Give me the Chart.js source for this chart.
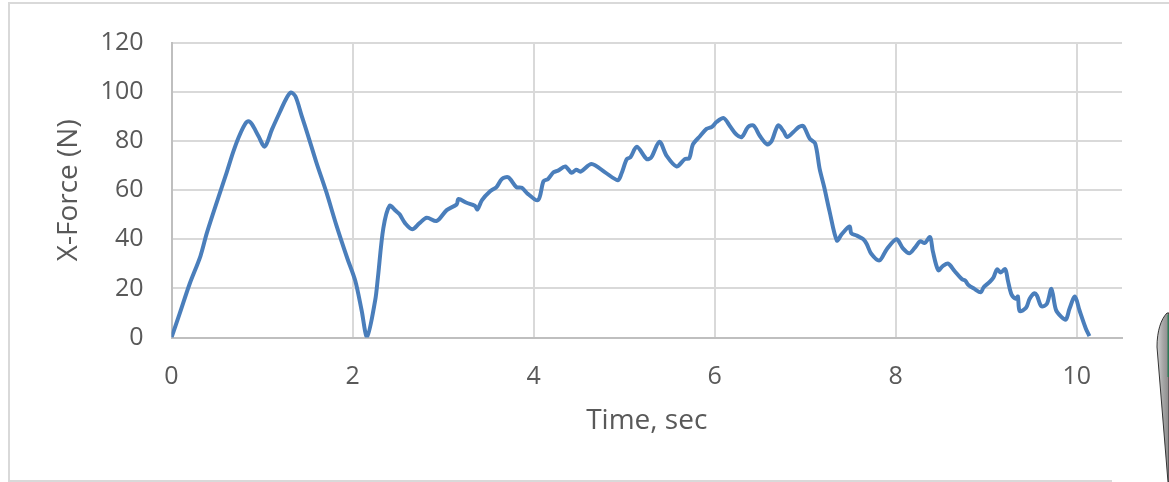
<!DOCTYPE html>
<html>
<head>
<meta charset="utf-8">
<script src="https://cdn.jsdelivr.net/npm/chart.js@4.4.1/dist/chart.umd.min.js"></script>
<style>
  html, body { margin: 0; padding: 0; background: #fff; }
  body { width: 1169px; height: 482px; position: relative; overflow: hidden; }
  #chart { position: absolute; left: 0; top: 0; }
  .frame { position: absolute; background: #d9d9d9; }
  #knob { position: absolute; left: 1150px; top: 305px; }
</style>
</head>
<body>
<div class="frame" style="left:8px; top:2px; width:1161px; height:2px;"></div>
<div class="frame" style="left:8px; top:2px; width:2px; height:479px;"></div>
<div class="frame" style="left:8px; top:480px; width:1104px; height:2px;"></div>
<svg id="knob" width="19" height="177" viewBox="0 0 19 177">
  <defs>
    <linearGradient id="knobFill" x1="0" y1="0" x2="1" y2="0">
      <stop offset="0" stop-color="#d0d0d0"/>
      <stop offset="0.5" stop-color="#a6a6a6"/>
      <stop offset="1" stop-color="#8a8a8a"/>
    </linearGradient>
  </defs>
  <path d="M17,8 C11,14 7,26 7,42 L18,177 L19,177 L19,8 Z" fill="url(#knobFill)" stroke="#333" stroke-width="1"/>
  <path d="M17.5,10 L19,9 L19,72 L17.5,72 Z" fill="#2f7a58"/>
</svg>
<canvas id="chart" width="1169" height="482"></canvas>
<script>
// Time (s) and X-force (N) samples of the pull trace
const timeSec = [
  0.00, 0.09, 0.20, 0.32, 0.39, 0.52, 0.61, 0.68, 0.74, 0.81, 0.85, 0.89, 0.96, 1.03, 1.11, 1.20,
  1.27, 1.32, 1.37, 1.44, 1.51, 1.60, 1.71, 1.82, 1.94, 2.03, 2.10, 2.16, 2.25, 2.28, 2.34, 2.41,
  2.48, 2.52, 2.58, 2.66, 2.74, 2.82, 2.93, 3.04, 3.15, 3.17, 3.26, 3.35, 3.38, 3.43, 3.52, 3.59,
  3.65, 3.72, 3.81, 3.87, 3.94, 4.05, 4.11, 4.16, 4.22, 4.27, 4.35, 4.42, 4.47, 4.52, 4.64, 4.79,
  4.93, 4.97, 5.03, 5.07, 5.14, 5.25, 5.30, 5.39, 5.47, 5.58, 5.67, 5.72, 5.76, 5.84, 5.91, 5.97,
  6.02, 6.10, 6.17, 6.24, 6.30, 6.37, 6.43, 6.50, 6.58, 6.63, 6.70, 6.76, 6.80, 6.87, 6.93, 6.98,
  7.05, 7.11, 7.16, 7.21, 7.27, 7.35, 7.40, 7.49, 7.51, 7.57, 7.64, 7.68, 7.73, 7.82, 7.90, 8.01,
  8.08, 8.15, 8.21, 8.27, 8.32, 8.38, 8.41, 8.47, 8.52, 8.58, 8.65, 8.73, 8.77, 8.80, 8.87, 8.94,
  8.97, 9.04, 9.08, 9.12, 9.16, 9.21, 9.24, 9.28, 9.33, 9.35, 9.37, 9.44, 9.48, 9.53, 9.56, 9.61,
  9.67, 9.72, 9.77, 9.83, 9.88, 9.92, 9.98, 10.03, 10.10, 10.14
];
const forceN = [
  0.0, 9.7, 21.8, 33.2, 42.5, 57.3, 67.3, 75.4, 81.4, 86.8, 88.1, 86.8, 82.1, 77.8, 84.8, 92.1,
  97.5, 99.8, 98.2, 90.1, 82.1, 71.4, 59.3, 45.9, 32.5, 23.1, 11.1, 0.3, 15.1, 24.4, 44.5, 53.7,
  51.5, 50.2, 46.6, 44.1, 46.6, 48.8, 47.5, 51.9, 54.2, 56.4, 54.9, 53.7, 52.2, 56.0, 59.6, 61.3,
  64.6, 65.3, 61.3, 61.0, 58.4, 56.0, 63.7, 64.6, 67.3, 68.0, 69.7, 67.1, 68.4, 67.6, 70.7, 67.3,
  64.1, 66.7, 72.7, 73.4, 77.7, 72.7, 73.4, 79.8, 74.0, 69.7, 72.7, 73.0, 78.7, 82.1, 85.0, 85.8,
  87.8, 89.4, 86.1, 82.7, 81.7, 85.8, 86.4, 82.1, 78.7, 80.1, 86.4, 84.1, 81.7, 83.7, 85.8, 86.1,
  81.0, 79.1, 68.7, 61.3, 51.3, 39.5, 41.9, 45.2, 42.5, 41.5, 40.1, 38.1, 34.1, 31.4, 35.9, 40.0,
  36.3, 34.3, 36.5, 39.2, 38.5, 40.9, 35.2, 27.4, 29.1, 30.1, 27.1, 23.8, 23.1, 21.5, 19.8, 18.4,
  20.4, 22.7, 24.4, 27.8, 26.5, 27.8, 23.1, 17.5, 15.8, 16.7, 10.8, 12.1, 15.8, 18.0, 17.1, 12.7,
  13.7, 19.8, 11.3, 8.4, 7.3, 11.7, 16.7, 11.1, 3.7, 0.6
];
const xTicks = [0, 2, 4, 6, 8, 10];
const yTicks = [0, 20, 40, 60, 80, 100, 120];

const points = timeSec.map((t, i) => ({ x: t, y: forceN[i] }));

const tickFont = { family: "'Open Sans', sans-serif", size: 25 };
const titleFont = { family: "'Open Sans', sans-serif", size: 28 };
const labelColor = "#595959";

new Chart(document.getElementById("chart"), {
    type: "scatter",
    data: {
        datasets: [{
            data: points,
            showLine: true,
            borderColor: "#4a7ebb",
            backgroundColor: "#4a7ebb",
            borderWidth: 4,
            pointRadius: 0,
            tension: 0.3
        }]
    },
    options: {
        responsive: false,
        devicePixelRatio: 1,
        animation: false,
        layout: { padding: { left: 0, top: 39, right: 47, bottom: 0 } },
        plugins: { legend: { display: false }, tooltip: { enabled: false } },
        scales: {
            x: {
                type: "linear",
                min: 0,
                max: 10.5,
                afterBuildTicks: scale => { scale.ticks = xTicks.map(v => ({ value: v })); },
                afterFit: scale => { scale.height = 482 - 337.5; },
                ticks: { font: tickFont, color: labelColor, padding: 24, maxRotation: 0 },
                grid: { color: "#d9d9d9", lineWidth: 2, drawTicks: false },
                border: { color: "#bfbfbf", width: 2 },
                title: { display: true, text: "Time, sec", font: titleFont, color: labelColor,
                         padding: { top: 0, bottom: 44 } }
            },
            y: {
                min: 0,
                max: 120,
                afterBuildTicks: scale => { scale.ticks = yTicks.map(v => ({ value: v })); },
                afterFit: scale => { scale.width = 171.5; },
                ticks: { font: tickFont, color: labelColor, padding: 28 },
                grid: { color: "#d9d9d9", lineWidth: 2, drawTicks: false },
                border: { color: "#bfbfbf", width: 2 },
                title: { display: true, text: "X-Force (N)", font: titleFont, color: labelColor,
                         padding: { top: 52, bottom: 0 } }
            }
        }
    }
});
</script>
</body>
</html>
